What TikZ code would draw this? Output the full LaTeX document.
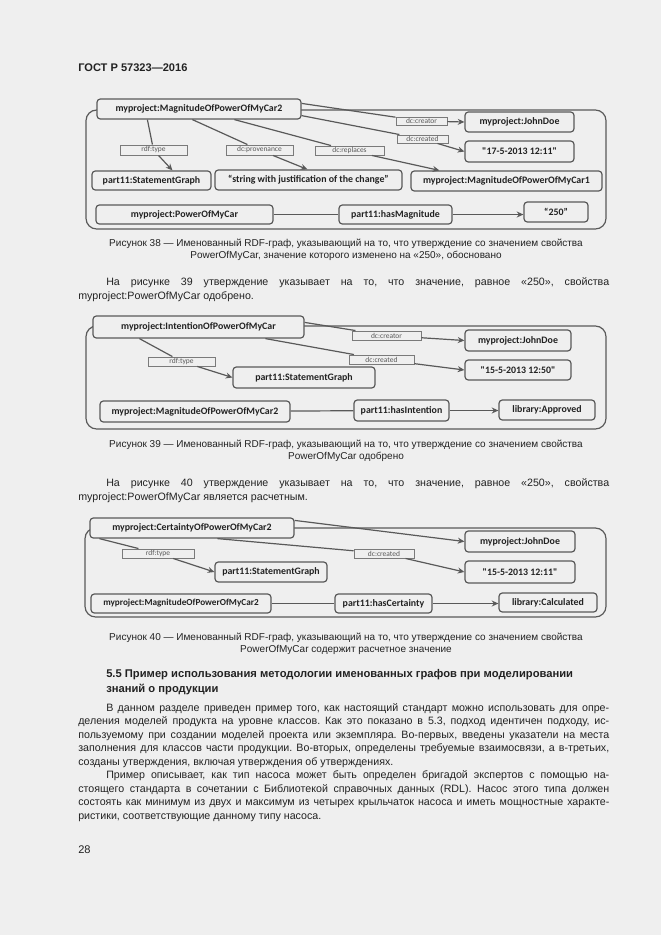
\documentclass[tikz,border=0pt]{standalone}
\usepackage{fontspec}
\setmainfont{Liberation Sans}
\newfontfamily\dfont{Carlito}
\usetikzlibrary{arrows.meta,calc}
\definecolor{pagebg}{HTML}{EFEFEF}
\definecolor{ink}{HTML}{222222}
\definecolor{lineg}{HTML}{595959}
\frenchspacing
\newcommand{\bx}[7]{\node[#1, minimum width={(#5-#3)*0.75pt}, minimum height={(#6-#4)*0.75pt}] (#2) at ({(#3+#5)/2},{(#4+#6)/2}) {#7};}
\newcommand{\jline}[5]{\node[body] (#1) at (#2,#3) {\makebox[#4][s]{#5}};}
\newcommand{\pline}[4]{\node[body] (#1) at (#2,#3) {#4};}
\newcommand{\capline}[4]{\node[captxt] (#1) at (#2,#3) {#4};}
\begin{document}
\begin{tikzpicture}[x=0.75pt,y=-0.75pt,
  nbox/.style={draw=lineg, line width=0.9pt, rounded corners=2.5pt, fill=pagebg, inner sep=0pt, text=ink, font=\dfont\bfseries\fontsize{7.4}{8}\selectfont},
  lbl/.style={draw=lineg!80, line width=0.7pt, fill=pagebg, inner sep=0pt, text=black!65, font=\dfont\fontsize{5.6}{6}\selectfont},
  grp/.style={draw=lineg, line width=0.9pt, rounded corners=8pt},
  edge/.style={draw=lineg, line width=0.9pt},
  arr/.style={edge, -{Stealth[length=5pt,width=4.5pt]}},
  body/.style={anchor=west, inner sep=0pt, text height=1.5ex, text depth=.25ex, text=ink, font=\fontsize{8}{10}\selectfont},
  captxt/.style={anchor=center, inner sep=0pt, text height=1.5ex, text depth=.25ex, text=ink, font=\fontsize{7.5}{9}\selectfont},
  head/.style={body, font=\bfseries\fontsize{8.4}{10}\selectfont}
]
\fill[pagebg] (0,0) rectangle (661,935);
\useasboundingbox (0,0) rectangle (661,935);

% header
\node[head, font=\bfseries\fontsize{8.3}{10}\selectfont] (hdr) at (78,67) {ГОСТ Р 57323—2016};

% ---------------- Figure 38 ----------------
\draw[grp] (86,110) rectangle (606,229);
\bx{nbox}{t1}{97}{99}{301}{119}{myproject:MagnitudeOfPowerOfMyCar2}
\bx{lbl}{l1a}{396}{117}{447}{125}{dc:creator}
\bx{nbox}{jd1}{465}{112}{574}{132}{myproject:JohnDoe}
\bx{lbl}{l1b}{397}{135}{448}{143}{dc:created}
\bx{nbox}{d1}{465}{141}{574}{162}{"17-5-2013 12:11"}
\bx{lbl}{l1c}{120}{145}{187}{155}{rdf:type}
\bx{lbl}{l1d}{226}{145}{293}{155}{dc:provenance}
\bx{lbl}{l1e}{315}{146}{384}{155}{dc:replaces}
\bx{nbox}{sg1}{92}{171}{211}{190}{part11:StatementGraph}
\bx{nbox}{s1}{215}{170}{402}{190}{“string with justification of the change”}
\bx{nbox}{c1}{411}{171}{602}{191}{myproject:MagnitudeOfPowerOfMyCar1}
\bx{nbox}{pm1}{96}{205}{273}{224}{myproject:PowerOfMyCar}
\bx{nbox}{hm1}{339}{205}{452}{224}{part11:hasMagnitude}
\bx{nbox}{v1}{524}{202}{588}{222}{“250”}

\draw[arr] ($(t1.north east)+(0,5)$) -- (l1a) -- (jd1.west);
\draw[arr] ($(t1.south east)+(0,-4)$) -- (l1b) -- (d1.west);
\draw[arr] ($(t1.south west)+(51,0)$) -- (l1c) -- ($(sg1.north west)+(81,0)$);
\draw[arr] ($(t1.south west)+(96,0)$) -- (l1d) -- ($(s1.north west)+(93,0)$);
\draw[arr] ($(t1.south west)+(138,0)$) -- (l1e) -- ($(c1.north west)+(29,0)$);
\draw[edge] (pm1) -- (hm1);
\draw[arr] (hm1.east) -- (hm1.east -| v1.west);

\capline{c38a}{346}{242}{Рисунок 38 — Именованный RDF-граф, указывающий на то, что утверждение со значением свойства}
\capline{c38b}{346}{254}{PowerOfMyCar, значение которого изменено на «250», обосновано}

\jline{p1a}{106}{281}{377.25pt}{На рисунке 39 утверждение указывает на то, что значение, равное «250», свойства}
\pline{p1b}{78}{295}{myproject:PowerOfMyCar одобрено.}

% ---------------- Figure 39 ----------------
\draw[grp] (86,326) rectangle (606,429);
\bx{nbox}{t2}{93}{316}{304}{338}{myproject:IntentionOfPowerOfMyCar}
\bx{lbl}{l2a}{352}{331}{421}{340}{dc:creator}
\bx{nbox}{jd2}{465}{330}{571}{351}{myproject:JohnDoe}
\bx{lbl}{l2b}{349}{355}{414}{364}{dc:created}
\bx{nbox}{d2}{465}{360}{571}{380}{"15-5-2013 12:50"}
\bx{lbl}{l2c}{148}{357}{215}{366}{rdf:type}
\bx{nbox}{sg2}{233}{367}{375}{388}{part11:StatementGraph}
\bx{nbox}{mc2}{100}{401}{290}{422}{myproject:MagnitudeOfPowerOfMyCar2}
\bx{nbox}{hi2}{354}{400}{449}{421}{part11:hasIntention}
\bx{nbox}{ap2}{499}{400}{595}{420}{library:Approved}

\draw[arr] ($(t2.north east)+(0,7)$) -- (l2a) -- (jd2.west);
\draw[arr] ($(t2.south west)+(173,0)$) -- (l2b) -- (d2.west);
\draw[arr] ($(t2.south west)+(47,0)$) -- (l2c) -- (sg2.west);
\draw[edge] (mc2) -- (hi2);
\draw[arr] (hi2.east) -- (hi2.east -| ap2.west);

\capline{c39a}{346}{443}{Рисунок 39 — Именованный RDF-граф, указывающий на то, что утверждение со значением свойства}
\capline{c39b}{346}{455}{PowerOfMyCar одобрено}

\jline{p2a}{106}{482}{377.25pt}{На рисунке 40 утверждение указывает на то, что значение, равное «250», свойства}
\pline{p2b}{78}{496}{myproject:PowerOfMyCar является расчетным.}

% ---------------- Figure 40 ----------------
\draw[grp] (85,528) rectangle (606,617);
\bx{nbox}{t3}{90}{518}{294}{538}{myproject:CertaintyOfPowerOfMyCar2}
\bx{nbox}{jd3}{465}{531}{575}{552}{myproject:JohnDoe}
\bx{lbl}{l3b}{354}{549}{414}{558}{dc:created}
\bx{nbox}{d3}{465}{561}{575}{583}{"15-5-2013 12:11"}
\bx{lbl}{l3c}{122}{549}{194}{558}{rdf:type}
\bx{nbox}{sg3}{215}{562}{327}{582}{part11:StatementGraph}
\bx{nbox,font=\dfont\bfseries\fontsize{6.9}{8}\selectfont}{mc3}{91}{594}{271}{613}{myproject:MagnitudeOfPowerOfMyCar2}
\bx{nbox}{hc3}{335}{594}{432}{613}{part11:hasCertainty}
\bx{nbox}{ca3}{499}{593}{597}{612}{library:Calculated}

\draw[arr] ($(t3.north east)+(0,3)$) -- (jd3.west);
\draw[arr] ($(t3.south west)+(128,0)$) -- (l3b) -- (d3.west);
\draw[arr] ($(t3.south west)+(10,0)$) -- (l3c) -- (sg3.west);
\draw[edge] (mc3) -- (hc3);
\draw[arr] (hc3.east) -- (hc3.east -| ca3.west);

\capline{c40a}{346}{636}{Рисунок 40 — Именованный RDF-граф, указывающий на то, что утверждение со значением свойства}
\capline{c40b}{346}{648}{PowerOfMyCar содержит расчетное значение}

% ---------------- Section 5.5 ----------------
\node[head] (h1) at (106,673) {5.5 Пример использования методологии именованных графов при моделировании};
\node[head] (h2) at (106,688) {знаний о продукции};

\jline{b1}{106}{707}{377.25pt}{В данном разделе приведен пример того, как настоящий стандарт можно использовать для опре-}
\jline{b2}{78}{720.5}{398.25pt}{деления моделей продукта на уровне классов. Как это показано в 5.3, подход идентичен подходу, ис-}
\jline{b3}{78}{734}{398.25pt}{пользуемому при создании моделей проекта или экземпляра. Во-первых, введены указатели на места}
\jline{b4}{78}{747.5}{398.25pt}{заполнения для классов части продукции. Во-вторых, определены требуемые взаимосвязи, а в-третьих,}
\pline{b5}{78}{761}{созданы утверждения, включая утверждения об утверждениях.}
\jline{b6}{106}{774.5}{377.25pt}{Пример описывает, как тип насоса может быть определен бригадой экспертов с помощью на-}
\jline{b7}{78}{788}{398.25pt}{стоящего стандарта в сочетании с Библиотекой справочных данных (RDL). Насос этого типа должен}
\jline{b8}{78}{801.5}{398.25pt}{состоять как минимум из двух и максимум из четырех крыльчаток насоса и иметь мощностные характе-}
\pline{b9}{78}{815}{ристики, соответствующие данному типу насоса.}

\node[body, font=\fontsize{8.3}{10}\selectfont] (pg) at (78,849) {28};
\end{tikzpicture}
\end{document}
